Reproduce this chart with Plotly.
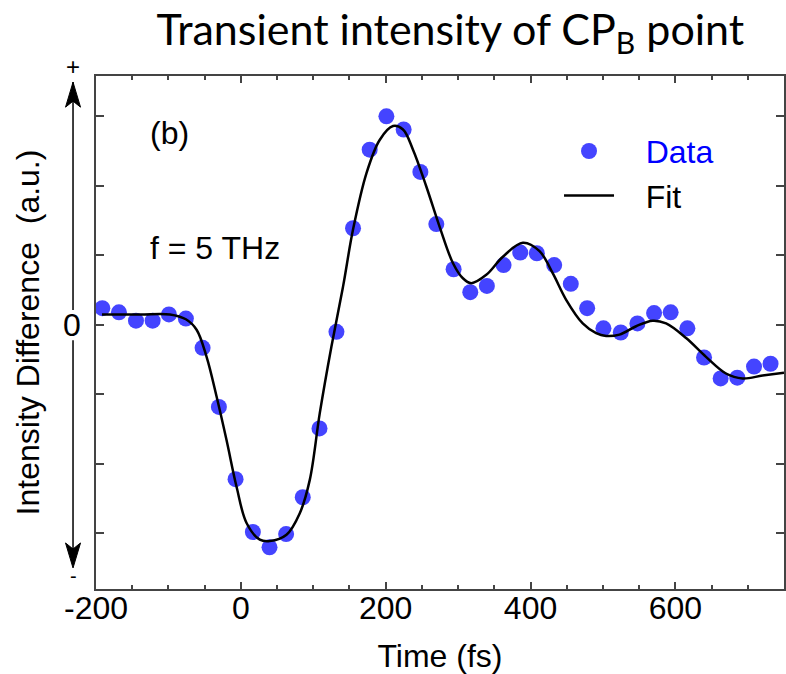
import plotly.graph_objects as go

# Measured points (fs, arbitrary units)
data_time = [-191.3, -168.3, -144.8, -121.8, -99.3, -75.9, -52.8, -30.3, -7.3, 16.6,
             39.6, 62.5, 85.5, 108.6, 132.0, 154.9, 177.9, 201.0, 224.8, 247.9,
             269.9, 293.8, 316.8, 339.7, 362.8, 385.8, 408.7, 432.7, 455.6, 478.2,
             500.7, 524.6, 547.6, 570.6, 593.5, 616.6, 639.6, 662.5, 685.5, 708.6, 731.4]
data_signal = [0.24, 0.18, 0.06, 0.06, 0.15, 0.09, -0.33, -1.18, -2.22, -2.98,
               -3.20, -3.01, -2.48, -1.49, -0.10, 1.39, 2.52, 3.00, 2.81, 2.20,
               1.45, 0.80, 0.47, 0.56, 0.86, 1.04, 1.03, 0.86, 0.59, 0.24,
               -0.05, -0.11, 0.02, 0.17, 0.18, -0.05, -0.47, -0.77, -0.76, -0.60, -0.56]

# Fit curve
fit_time = [-191.7, -139.3, -97.9, -75.9, -61.1, -47.3, -33.5, -19.7, -5.9, 7.9,
            26.2, 40.0, 63.0, 81.4, 95.2, 109.0, 125.1, 141.1, 154.9, 173.4,
            191.7, 210.1, 223.9, 237.7, 256.1, 274.5, 292.8, 306.6, 318.2, 338.9,
            361.8, 389.4, 412.4, 430.8, 449.2, 472.1, 490.6, 504.4, 522.8, 545.8,
            568.7, 587.2, 614.8, 642.3, 669.9, 692.8, 720.4, 750.0]
fit_signal = [0.15, 0.15, 0.15, 0.08, -0.07, -0.46, -1.03, -1.66, -2.33, -2.85,
              -3.09, -3.11, -3.02, -2.71, -2.23, -1.27, -0.31, 0.55, 1.37, 2.18,
              2.66, 2.86, 2.81, 2.52, 1.99, 1.41, 0.89, 0.67, 0.60, 0.72,
              0.98, 1.18, 1.06, 0.74, 0.36, 0.02, -0.12, -0.16, -0.14, -0.02,
              0.06, 0.02, -0.19, -0.46, -0.70, -0.77, -0.73, -0.69]

x_ticks = [-200, 0, 200, 400, 600]
x_ticktext = ['-200', '0', '200', '400', '600']
y_ticks = [0]
y_ticktext = ['0']

font = 'Liberation Sans, Arial, sans-serif'
fsize = 32

fig = go.Figure()

fig.add_trace(go.Scatter(
    x=data_time, y=data_signal, mode='markers',
    name='&nbsp;&nbsp;&nbsp;<span style="color:#0000ff">Data</span>',
    marker=dict(size=16, color='#4444ff'),
))
fig.add_trace(go.Scatter(
    x=fit_time, y=fit_signal, mode='lines', name='&nbsp;&nbsp;&nbsp;Fit',
    line=dict(color='black', width=2.5, shape='spline', smoothing=1.0),
))

axis_common = dict(
    showline=True, linecolor='#444', linewidth=1.5, mirror='allticks',
    ticks='inside', tickcolor='#444', tickwidth=1.5,
    showgrid=False, zeroline=False, automargin=False,
    tickfont=dict(family=font, size=fsize, color='black'),
)

fig.update_xaxes(
    range=[-200, 750], tickvals=x_ticks, ticktext=x_ticktext, ticklen=7,
    minor=dict(dtick=50, tick0=0, ticks='inside', ticklen=4, tickcolor='#444', showgrid=False),
    ticklabelstandoff=-10,
    title=dict(text='Time (fs)', font=dict(family=font, size=fsize, color='black'), standoff=19),
    **axis_common,
)
fig.update_yaxes(
    range=[-3.8, 3.58], tickvals=y_ticks, ticktext=y_ticktext, ticklen=8,
    minor=dict(dtick=1, tick0=0, ticks='inside', ticklen=8, tickcolor='#444', showgrid=False),
    ticklabelstandoff=7,
    title=dict(text='Intensity Difference&nbsp; (a.u.)',
               font=dict(family=font, size=fsize, color='black'), standoff=14),
    **axis_common,
)

# up/down arrow shafts beside the y axis, with + and - at their ends
arrow_x = -0.0334
fig.add_annotation(xref='paper', yref='paper', x=arrow_x, y=0.544, ax=0, ay=-243,
                   text='+', showarrow=True, arrowhead=0, arrowwidth=1.5, arrowcolor='black',
                   font=dict(family=font, size=24, color='black'))
fig.add_annotation(xref='paper', yref='paper', x=arrow_x, y=0.485, ax=0, ay=236,
                   text='-', showarrow=True, arrowhead=0, arrowwidth=1.5, arrowcolor='black',
                   font=dict(family=font, size=20, color='black'))

# narrow notched heads for the two arrows (pixel-sized paths)
head_up = 'M0,0 L-7.5,-25 L0,-19 L7.5,-25 Z'
head_down = 'M0,0 L-7.5,25 L0,19 L7.5,25 Z'
for tip_y, path in [(0.988, head_up), (0.041, head_down)]:
    fig.add_shape(type='path', xref='paper', yref='paper',
                  xsizemode='pixel', ysizemode='pixel', xanchor=arrow_x, yanchor=tip_y,
                  path=path, fillcolor='black', line=dict(color='black', width=1))

fig.add_annotation(xref='paper', yref='paper', x=0.107, y=0.889, text='(b)', showarrow=False,
                   xanchor='center', yanchor='middle',
                   font=dict(family=font, size=fsize, color='black'))
fig.add_annotation(xref='paper', yref='paper', x=0.173, y=0.665, text='f = 5 THz', showarrow=False,
                   xanchor='center', yanchor='middle',
                   font=dict(family=font, size=fsize, color='black'))

fig.update_layout(
    width=786, height=674,
    margin=dict(l=96, r=2, t=76, b=85),
    paper_bgcolor='white', plot_bgcolor='white',
    title=dict(text='Transient intensity of CP<sub>B</sub> point',
               font=dict(family='Lato, sans-serif', size=43, color='black'),
               x=0.573, xanchor='center', y=0.955, yanchor='middle'),
    legend=dict(x=0.673, y=0.907, xanchor='left', yanchor='top', bgcolor='rgba(0,0,0,0)',
                font=dict(family=font, size=fsize, color='black'), itemwidth=50),
)

# the page body has a default 8px margin; drop it so the figure sits at the corner
fig.write_html('out.html', config={'displayModeBar': False},
               post_script="document.body.style.margin='0';")
